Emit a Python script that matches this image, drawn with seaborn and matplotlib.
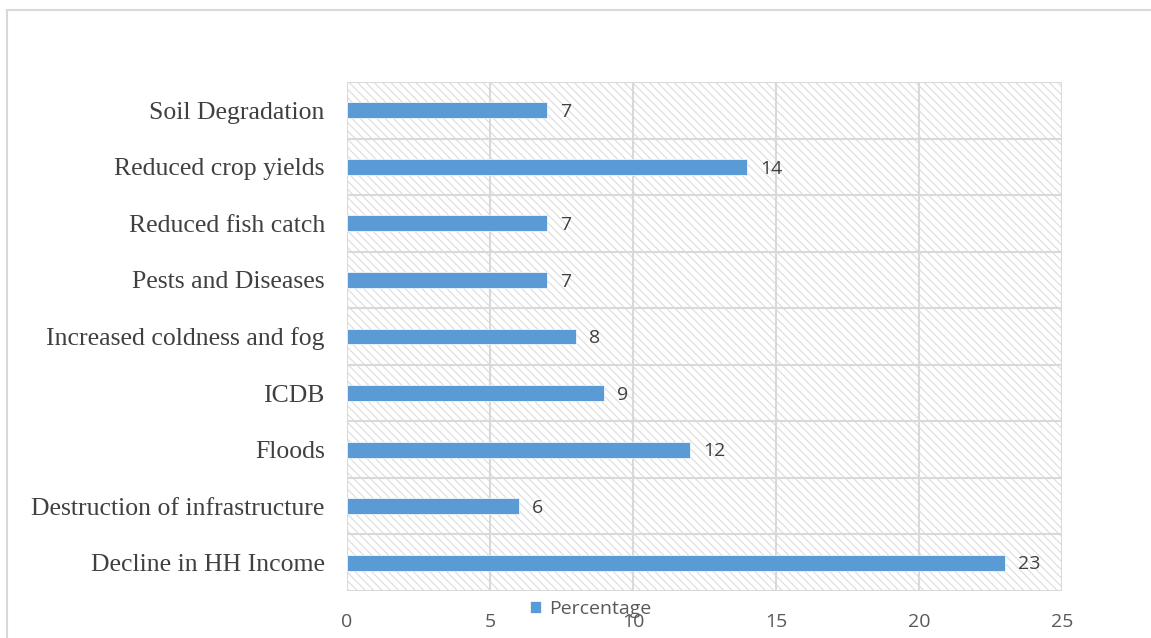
import matplotlib
matplotlib.use("Agg")
import matplotlib.pyplot as plt
from matplotlib.patches import Rectangle
import seaborn as sns
import pandas as pd

# Reported climate-change impacts (percentage of responses)
categories = [
    "Soil Degradation",
    "Reduced crop yields",
    "Reduced fish catch",
    "Pests and Diseases",
    "Increased coldness and fog",
    "ICDB",
    "Floods",
    "Destruction of infrastructure",
    "Decline in HH Income",
]
percentages = [7, 14, 7, 7, 8, 9, 12, 6, 23]
x_ticks = [0, 5, 10, 15, 20, 25]

df = pd.DataFrame({"Impact": categories, "Percentage": percentages})

sns.set_theme(style="white")
plt.rcParams["font.family"] = ["Liberation Serif", "DejaVu Sans"]

BLUE = "#5B9BD5"
GRID = "#d9d9d9"
TEXT = "#595959"

fig = plt.figure(figsize=(11.51, 6.38), dpi=100)
ax = fig.add_axes([347 / 1151, 1 - 591 / 638, (1062 - 347) / 1151, (591 - 82) / 638])

# outer chart frame
fig.patches.append(Rectangle((7 / 1151, -0.1), 1.2, 1 - 10 / 638 + 0.1,
                             transform=fig.transFigure, fill=False,
                             edgecolor=GRID, linewidth=1.5, zorder=0))

# hatched plot area background
plt.rcParams["hatch.linewidth"] = 0.8
ax.add_patch(Rectangle((0, 0), 1, 1, transform=ax.transAxes, facecolor="white",
                       edgecolor="#dcdcdc", hatch="\\\\\\\\", linewidth=0, zorder=0))

sns.barplot(data=df, x="Percentage", y="Impact", orient="h", color=BLUE,
            width=0.28, saturation=1, ax=ax, zorder=3, label="Percentage",
            edgecolor="white", linewidth=0.5)

ax.set_xlim(0, 25)
ax.set_ylim(len(categories) - 0.5, -0.5)
ax.set_xticks(x_ticks)

# gridlines: vertical at ticks, horizontal between categories
for xv in x_ticks:
    ax.axvline(xv, color=GRID, linewidth=1.5, zorder=1)
for i in range(len(categories) + 1):
    ax.axhline(i - 0.5, color=GRID, linewidth=1.5, zorder=1)

for s in ax.spines.values():
    s.set_visible(False)

ax.set_xlabel("")
ax.set_ylabel("")
ax.tick_params(axis="both", length=0)
ax.tick_params(axis="x", pad=16, labelsize=14, labelcolor=TEXT)
ax.tick_params(axis="y", pad=16, labelsize=18.5, labelcolor="#404040")
for lbl in ax.get_xticklabels():
    lbl.set_fontfamily(["Open Sans", "DejaVu Sans"])

# value labels
for i, v in enumerate(percentages):
    ax.text(v + 0.45, i + 0.03, f"{v}", va="center", ha="left", fontsize=14,
            color="#404040", family=["Open Sans", "DejaVu Sans"], zorder=4)

leg = ax.legend(loc="center", bbox_to_anchor=(0.513, 0.046),
                bbox_transform=fig.transFigure, frameon=False,
                handlelength=0.6, handleheight=0.6, handletextpad=0.4,
                prop={"family": ["Open Sans", "DejaVu Sans"], "size": 14})
for t in leg.get_texts():
    t.set_color(TEXT)

fig.savefig("out.png", dpi=100)
